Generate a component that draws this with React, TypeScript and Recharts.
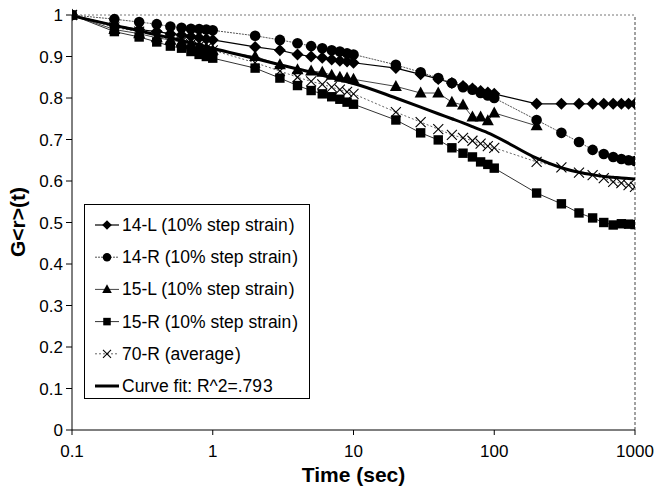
import React from 'react'
import { LineChart, Line, XAxis, YAxis, Legend, ReferenceLine, Label } from 'recharts'

// time points (sec)
const time = [
  0.1, 0.2, 0.3, 0.4, 0.5, 0.6, 0.7, 0.8, 0.9,
  1, 2, 3, 4, 5, 6, 7, 8, 9,
  10, 20, 30, 40, 50, 60, 70, 80, 90,
  100, 200, 300, 400, 500, 600, 700, 800, 900, 1000,
]

const l14 = [
  1.0, 0.975, 0.965, 0.96, 0.955, 0.952, 0.948, 0.945, 0.942,
  0.94, 0.923, 0.915, 0.905, 0.9, 0.897, 0.893, 0.89, 0.888,
  0.885, 0.872, 0.857, 0.846, 0.836, 0.829, 0.823, 0.817, 0.813,
  0.81, 0.786, 0.786, 0.786, 0.786, 0.786, 0.786, 0.786, 0.786, 0.786,
]

const r14 = [
  1.0, 0.99, 0.983, 0.978, 0.972, 0.969, 0.967, 0.966, 0.965,
  0.963, 0.95, 0.94, 0.932, 0.925, 0.92, 0.915, 0.912, 0.908,
  0.905, 0.88, 0.862, 0.848, 0.836, 0.826, 0.82, 0.812, 0.806,
  0.8, 0.747, 0.716, 0.694, 0.675, 0.665, 0.658, 0.653, 0.65, 0.648,
]

const l15 = [
  1.0, 0.965, 0.955, 0.945, 0.94, 0.935, 0.93, 0.925, 0.92,
  0.915, 0.9, 0.88, 0.868, 0.865, 0.862, 0.855, 0.85, 0.848,
  0.845, 0.828, 0.812, 0.812, 0.79, 0.783, 0.754, 0.754, 0.745,
  0.764, 0.733, null, null, null, null, null, null, null, null,
]

const r15 = [
  1.0, 0.96, 0.947, 0.935, 0.925, 0.92, 0.912, 0.905, 0.9,
  0.896, 0.872, 0.848, 0.83, 0.818, 0.81, 0.803, 0.797, 0.79,
  0.785, 0.747, 0.716, 0.699, 0.68, 0.667, 0.658, 0.646, 0.64,
  0.631, 0.571, 0.545, 0.523, 0.511, 0.5, 0.494, 0.497, 0.496, 0.495,
]

const r70 = [
  1.0, 0.97, 0.96, 0.95, 0.94, 0.935, 0.93, 0.925, 0.92,
  0.915, 0.885, 0.865, 0.85, 0.84, 0.833, 0.826, 0.82, 0.815,
  0.81, 0.766, 0.742, 0.725, 0.711, 0.704, 0.697, 0.69, 0.684,
  0.68, 0.646, 0.633, 0.62, 0.614, 0.607, 0.598, 0.595, 0.59, 0.586,
]

const fit = [
  0.998, 0.975, 0.962, 0.952, 0.945, 0.938, 0.933, 0.928, 0.924,
  0.92, 0.895, 0.88, 0.87, 0.862, 0.855, 0.849, 0.844, 0.839,
  0.835, 0.8, 0.778, 0.762, 0.75, 0.74, 0.731, 0.723, 0.716,
  0.709, 0.655, 0.632, 0.621, 0.615, 0.611, 0.609, 0.607, 0.606, 0.605,
]

const xTicks = [0.1, 1, 10, 100, 1000]
const yTicks = [0, 0.1, 0.2, 0.3, 0.4, 0.5, 0.6, 0.7, 0.8, 0.9, 1]

const data = time.map((t, i) => ({
  t,
  l14: l14[i],
  r14: r14[i],
  l15: l15[i],
  r15: r15[i],
  r70: r70[i],
  fit: fit[i],
}))

const FONT = '"Liberation Sans", Arial, sans-serif'

type Shape = 'diamond' | 'circle' | 'triangle' | 'square' | 'cross' | 'none'

function Marker({ shape, cx, cy, k = 1 }: { shape: Shape; cx: number; cy: number; k?: number }) {
  switch (shape) {
    case 'diamond':
      return <polygon points={`${cx},${cy - 6 * k} ${cx + 6 * k},${cy} ${cx},${cy + 6 * k} ${cx - 6 * k},${cy}`} fill="#000" />
    case 'circle':
      return <circle cx={cx} cy={cy} r={5.3 * k} fill="#000" />
    case 'triangle':
      return <polygon points={`${cx},${cy - 6.5 * k} ${cx + 6 * k},${cy + 4.5 * k} ${cx - 6 * k},${cy + 4.5 * k}`} fill="#000" />
    case 'square':
      return <rect x={cx - 4.7 * k} y={cy - 4.7 * k} width={9.4 * k} height={9.4 * k} fill="#000" />
    case 'cross':
      return (
        <g stroke="#000" strokeWidth={1.1}>
          <line x1={cx - 5 * k} y1={cy - 5 * k} x2={cx + 5 * k} y2={cy + 5 * k} />
          <line x1={cx - 5 * k} y1={cy + 5 * k} x2={cx + 5 * k} y2={cy - 5 * k} />
        </g>
      )
    default:
      return null
  }
}

const makeDot = (shape: Shape) => (props: any) => {
  const { cx, cy, index, value } = props
  if (cx == null || cy == null || value == null || Number.isNaN(cy)) return <g key={`d-${index}`} />
  return (
    <g key={`d-${index}`}>
      <Marker shape={shape} cx={cx} cy={cy} />
    </g>
  )
}

const SERIES = [
  { key: 'l14', name: '14-L (10% step strain)', shape: 'diamond' as Shape, stroke: '#000', width: 1.2, dash: undefined },
  { key: 'r14', name: '14-R (10% step strain)', shape: 'circle' as Shape, stroke: '#555', width: 1, dash: '2 1' },
  { key: 'l15', name: '15-L (10% step strain)', shape: 'triangle' as Shape, stroke: '#444', width: 1, dash: undefined },
  { key: 'r15', name: '15-R (10% step strain)', shape: 'square' as Shape, stroke: '#333', width: 1, dash: undefined },
  { key: 'r70', name: '70-R (average)', shape: 'cross' as Shape, stroke: '#666', width: 1, dash: '2 2' },
]

const LEG_W = 226
const LEG_H = 195

function LegendBox() {
  const rows = [
    ...SERIES.map((s) => ({ name: s.name, shape: s.shape, stroke: s.stroke, width: s.width, dash: s.dash })),
    { name: 'Curve fit: R^2=.793', shape: 'none' as Shape, stroke: '#000', width: 3, dash: undefined },
  ]
  return (
    <svg width={LEG_W} height={LEG_H} style={{ display: 'block', overflow: 'visible' }}>
      <rect x={0.5} y={0.5} width={LEG_W - 1} height={LEG_H - 1} fill="#fff" stroke="#000" />
      {rows.map((r, i) => {
        const y = 21 + i * 32.2
        const last = r.name.slice(-1)
        return (
          <g key={r.name}>
            <line x1={11} y1={y} x2={35} y2={y} stroke={r.stroke} strokeWidth={r.width} strokeDasharray={r.dash} />
            <Marker shape={r.shape} cx={23} cy={y} k={0.8} />
            <text x={38} y={y + 6} fontFamily={FONT} fontSize={17.5} fill="#000">
              <tspan>{r.name.slice(0, -1)}</tspan>
              <tspan dx={1}>{last}</tspan>
            </text>
          </g>
        )
      })}
    </svg>
  )
}

export default function App() {
  const tickStyle = { fontFamily: FONT, fontSize: 17, fill: '#000' }
  return (
    <div style={{ position: 'absolute', left: 0, top: 0, width: 665, height: 490, background: '#fff' }}>
      <LineChart width={665} height={490} data={data} margin={{ top: 15, right: 30, left: 0, bottom: 0 }}>
        <XAxis
          dataKey="t"
          type="number"
          scale="log"
          domain={[0.1, 1000]}
          ticks={xTicks}
          allowDataOverflow
          height={60}
          tick={tickStyle}
          tickSize={5}
          tickMargin={10}
          stroke="#000"
          tickFormatter={(v: number) => String(v)}
        >
          <Label
            value="Time (sec)"
            position="insideBottom"
            offset={8}
            style={{ fontFamily: FONT, fontSize: 21, fontWeight: 'bold', fill: '#000' }}
          />
        </XAxis>
        <YAxis
          type="number"
          domain={[0, 1]}
          ticks={yTicks}
          width={72}
          tick={tickStyle}
          tickSize={6}
          tickMargin={3}
          stroke="#000"
          tickFormatter={(v: number) => String(v)}
        >
          <Label
            content={() => (
              <text
                transform="translate(25,222) rotate(-90)"
                textAnchor="middle"
                style={{ fontFamily: FONT, fontSize: 21, fontWeight: 'bold', fill: '#000' }}
              >
                {'G<r>(t)'}
              </text>
            )}
          />
        </YAxis>
        <ReferenceLine y={1} stroke="#777" strokeDasharray="2 2" />
        <ReferenceLine x={1000} stroke="#444" strokeDasharray="3 2" />
        {SERIES.map((s) => (
          <Line
            key={s.key}
            dataKey={s.key}
            name={s.name}
            type="linear"
            stroke={s.stroke}
            strokeWidth={s.width}
            strokeDasharray={s.dash}
            dot={makeDot(s.shape)}
            activeDot={false}
            isAnimationActive={false}
          />
        ))}
        <Line
          dataKey="fit"
          name="Curve fit: R^2=.793"
          type="monotone"
          stroke="#000"
          strokeWidth={3}
          dot={false}
          activeDot={false}
          isAnimationActive={false}
        />
        <Legend
          layout="vertical"
          align="center"
          verticalAlign="middle"
          wrapperStyle={{ left: 84, top: 204, width: LEG_W, height: LEG_H }}
          content={() => <LegendBox />}
        />
      </LineChart>
    </div>
  )
}
